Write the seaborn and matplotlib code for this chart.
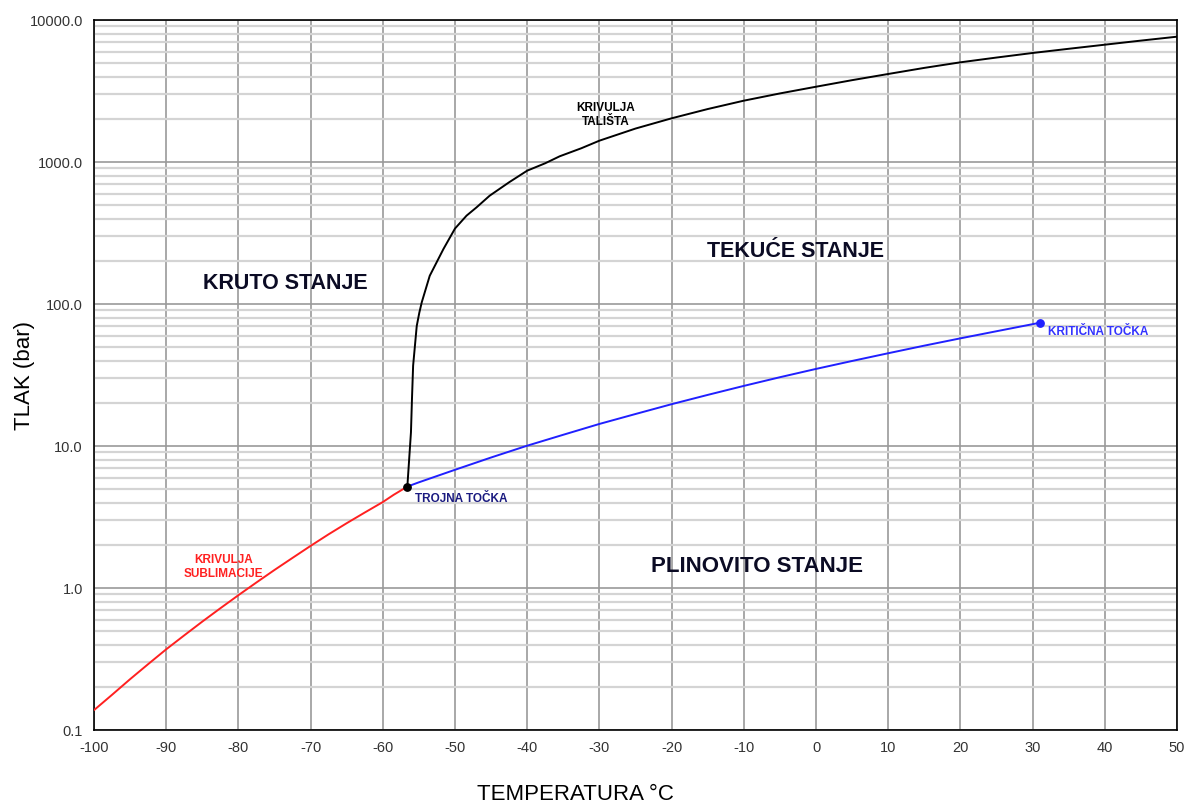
import numpy as np
import pandas as pd
import matplotlib
matplotlib.use("Agg")
import matplotlib.pyplot as plt
from matplotlib.ticker import MultipleLocator, LogLocator, FixedLocator, NullFormatter
import seaborn as sns

sns.set_style("white")
plt.rcParams["font.family"] = ["Liberation Sans", "DejaVu Sans"]

# Sublimation curve (solid - gas), temperature in degC, pressure in bar
subl_t = [-100, -97.5, -95, -92.5, -90, -87.5, -85, -82.5, -80, -77.5, -75,
          -72.5, -70, -67.5, -65, -62.5, -60, -58.5, -56.6]
subl_p = [0.138, 0.177, 0.228, 0.291, 0.370, 0.464, 0.580, 0.720, 0.890, 1.094, 1.34,
          1.63, 1.98, 2.39, 2.86, 3.40, 4.03, 4.53, 5.18]

# Vapour pressure curve (liquid - gas), triple point to critical point
vap_t = [-56.6, -55, -50, -45, -40, -35, -30, -25, -20, -15, -10, -5,
         0, 5, 10, 15, 20, 25, 30, 31.0]
vap_p = [5.18, 5.55, 6.8, 8.3, 10.05, 12.0, 14.3, 16.8, 19.7, 22.9, 26.5, 30.5,
         34.9, 39.7, 45.0, 50.9, 57.3, 64.3, 72.1, 73.8]

# Melting curve (solid - liquid)
melt_t = [-56.6, -56.1, -55.96, -55.8, -55.3, -54.94, -54.6, -53.5, -51.6, -50.0,
          -48.4, -47, -45.2, -42.5, -40, -37.5, -35.5, -32.5, -30, -25, -20, -15,
          -10, -5, 0, 5, 10, 15, 20, 25, 30, 35, 40, 45, 50]
melt_p = [5.18, 12.5, 21.4, 36.8, 70, 87, 103, 158, 244, 340,
          419, 480, 579, 720, 869, 980, 1097, 1250, 1413, 1720, 2031, 2360,
          2703, 3040, 3389, 3770, 4167, 4600, 5035, 5440, 5858, 6270, 6700, 7160, 7630]

triple_t, triple_p = -56.6, 5.18
critical_t, critical_p = 31.0, 73.8

x_ticks = list(range(-100, 51, 10))
y_ticks = [0.1, 1.0, 10.0, 100.0, 1000.0, 10000.0]
y_tick_labels = ["0.1", "1.0", "10.0", "100.0", "1000.0", "10000.0"]

subl_df = pd.DataFrame({"T": subl_t, "P": subl_p})
vap_df = pd.DataFrame({"T": vap_t, "P": vap_p})
melt_df = pd.DataFrame({"T": melt_t, "P": melt_p})

fig = plt.figure(figsize=(11.9, 8.03), dpi=100)
ax = fig.add_axes([94 / 1190, 1 - 731 / 803, (1177 - 94) / 1190, (731 - 21) / 803])

ax.set_yscale("log")
ax.set_xlim(-100, 50)
ax.set_ylim(0.1, 10000)

# grid: light minor horizontals, darker decades and 10-degree verticals
ax.yaxis.set_minor_locator(LogLocator(base=10, subs=np.arange(2, 10)))
ax.yaxis.set_minor_formatter(NullFormatter())
ax.xaxis.set_major_locator(FixedLocator(x_ticks))
ax.xaxis.set_minor_locator(MultipleLocator(1))
ax.yaxis.set_major_locator(FixedLocator(y_ticks))
ax.set_yticklabels(y_tick_labels)
ax.set_xticklabels([str(v) for v in x_ticks])

ax.grid(axis="y", which="minor", color="#d4d4d4", linewidth=1.6, zorder=0)
ax.grid(axis="y", which="major", color="#9a9a9a", linewidth=1.2, zorder=0)
ax.grid(axis="x", which="major", color="#9a9a9a", linewidth=1.2, zorder=0)
ax.set_axisbelow(True)

for s in ax.spines.values():
    s.set_color("black")
    s.set_linewidth(1.2)

ax.tick_params(axis="both", which="major", direction="inout", length=9, width=1.0,
               color="black", labelsize=10.5, labelcolor="#333333")
ax.tick_params(axis="both", which="minor", direction="in", length=5, width=0.9, color="black")
ax.tick_params(axis="x", which="both", top=False)
ax.tick_params(axis="y", which="both", right=False)
ax.tick_params(axis="x", which="major", pad=3)

sns.lineplot(data=subl_df, x="T", y="P", ax=ax, color="#ff2020", linewidth=1.4,
             estimator=None, sort=False, zorder=3)
sns.lineplot(data=vap_df, x="T", y="P", ax=ax, color="#2020ff", linewidth=1.4,
             estimator=None, sort=False, zorder=3)
sns.lineplot(data=melt_df, x="T", y="P", ax=ax, color="black", linewidth=1.4,
             estimator=None, sort=False, zorder=3)

ax.scatter([triple_t], [triple_p], s=28, color="black", zorder=5)
ax.scatter([critical_t], [critical_p], s=28, color="#2020ff", zorder=5)

ax.set_xlabel("TEMPERATURA °C", fontsize=16, color="black")
ax.set_ylabel("TLAK (bar)", fontsize=16, color="black")
ax.xaxis.set_label_coords(0.445, -0.074)
ax.yaxis.set_label_coords(-0.0545, 0.501)

region_kw = dict(fontsize=15.5, fontweight="bold", color="#0b0b24", ha="center", va="center")
ax.text(-73.5, 141, "KRUTO STANJE", **region_kw)
ax.text(-2.9, 240, "TEKUĆE STANJE", **region_kw)
ax.text(-8.2, 1.45, "PLINOVITO STANJE", fontsize=16, fontweight="bold", color="#0b0b24",
        ha="center", va="center")

small_kw = dict(fontsize=8.5, fontweight="bold", ha="center", va="center", linespacing=1.15)
ax.text(-29.1, 2180, "KRIVULJA\nTALIŠTA", color="black", **small_kw)
ax.text(-82.1, 1.43, "KRIVULJA\nSUBLIMACIJE", color="#ff2020", **small_kw)
ax.text(-55.6, 4.3, "TROJNA TOČKA", color="#1a1a80", fontsize=8.5, fontweight="bold",
        ha="left", va="center")
ax.text(32.2, 65, "KRITIČNA TOČKA", color="#3333ff", fontsize=8.5, fontweight="bold",
        ha="left", va="center")

fig.savefig("out.png", dpi=100)
